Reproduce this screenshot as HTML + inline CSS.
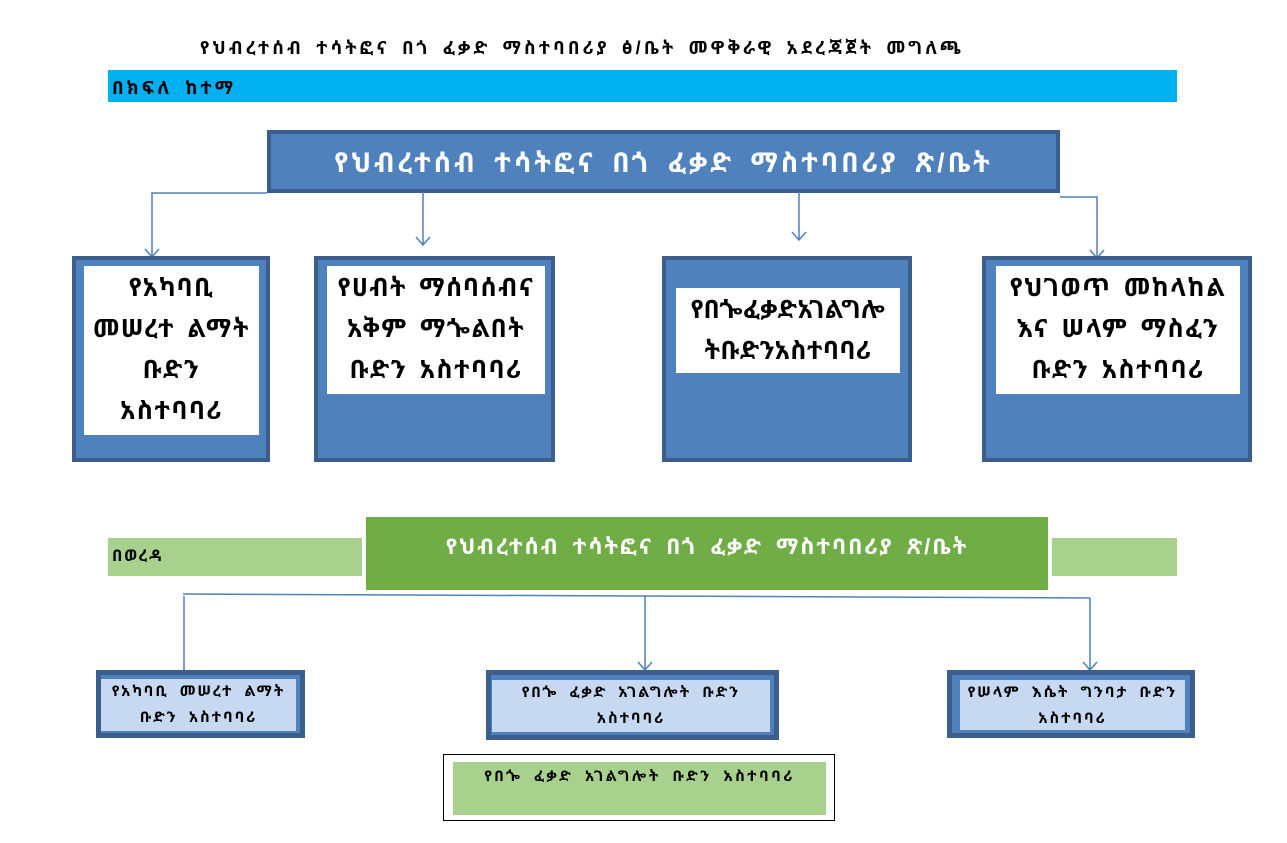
<!DOCTYPE html>
<html><head><meta charset="utf-8"><style>
body{margin:0;width:1287px;height:843px;background:#fff;position:relative;overflow:hidden;font-family:"Liberation Sans","Noto Sans Ethiopic","Abyssinica SIL",sans-serif;font-weight:bold}
div{position:absolute;box-sizing:border-box}
.c{display:flex;align-items:center;justify-content:center;text-align:center}
.ob{background:#4f81bd;border:4px solid #3b5e8c}
.wi{background:#fff;color:#000;font-size:25px;line-height:41px;text-align:center;letter-spacing:1.5px;word-spacing:4px}
.bb{background:#4f81bd;border:5px solid #3b5e8c}
.li{background:#c6d9f0;color:#000;font-size:15px;line-height:26px;text-align:center;letter-spacing:2px;word-spacing:5px}
</style></head><body>
<div style="left:200px;top:36px;font-size:18px;white-space:nowrap;letter-spacing:3.2px;word-spacing:4px">የህብረተሰብ ተሳትፎና በጎ ፈቃድ ማስተባበሪያ ፅ/ቤት መዋቅራዊ አደረጃጀት መግለጫ</div>
<div style="left:108px;top:70px;width:1069px;height:32px;background:#00b0f0;font-size:18px;padding:6px 4px;letter-spacing:3px;word-spacing:5px">በክፍለ ከተማ</div>
<div class="ob c" style="left:267px;top:130px;width:793px;height:63px;color:#fff;font-size:27px;letter-spacing:3px;word-spacing:6px">የህብረተሰብ ተሳትፎና በጎ ፈቃድ ማስተባበሪያ ጽ/ቤት</div>
<svg style="position:absolute;left:0;top:0" width="1287" height="843">
<g stroke="#4f81bd" stroke-width="1.5" fill="none">
<path d="M267 193H152V257M145 249l7 8 7-8"/>
<path d="M423 192V245M416 237l7 8 7-8"/>
<path d="M799 192V240M792 232l7 8 7-8"/>
<path d="M1060 197H1097V258M1090 250l7 8 7-8"/>
<path d="M183 594L1090 598"/>
<path d="M184 596V670"/>
<path d="M645 596V670M638 662l7 8 7-8"/>
<path d="M1090 598V670M1083 662l7 8 7-8"/>
</g></svg>
<div class="ob" style="left:72px;top:256px;width:198px;height:206px"></div>
<div class="wi" style="left:84px;top:266px;width:175px;height:169px;padding-top:2px">የአካባቢ<br>መሠረተ ልማት<br>ቡድን<br>አስተባባሪ</div>
<div class="ob" style="left:314px;top:256px;width:241px;height:206px"></div>
<div class="wi" style="left:327px;top:266px;width:218px;height:128px;padding-top:2px">የሀብት ማሰባሰብና<br>አቅም ማጐልበት<br>ቡድን አስተባባሪ</div>
<div class="ob" style="left:662px;top:256px;width:250px;height:206px"></div>
<div class="wi" style="left:676px;top:288px;width:224px;height:85px;padding-top:2px;letter-spacing:0.5px">የበጐፈቃድአገልግሎ<br>ትቡድንአስተባባሪ</div>
<div class="ob" style="left:982px;top:256px;width:270px;height:206px"></div>
<div class="wi" style="left:996px;top:266px;width:244px;height:128px;padding-top:2px">የህገወጥ መከላከል<br>እና ሠላም ማስፈን<br>ቡድን አስተባባሪ</div>
<div style="left:108px;top:538px;width:254px;height:38px;background:#a9d18e;font-size:16px;padding:6px 4px;letter-spacing:2px">በወረዳ</div>
<div style="left:1052px;top:538px;width:125px;height:38px;background:#a9d18e"></div>
<div style="left:366px;top:517px;width:682px;height:73px;background:#70ad47;color:#fff;font-size:22px;text-align:center;padding-top:14px;letter-spacing:2px;word-spacing:5px">የህብረተሰብ ተሳትፎና በጎ ፈቃድ ማስተባበሪያ ጽ/ቤት</div>
<div class="bb" style="left:96px;top:670px;width:209px;height:68px"></div>
<div class="li" style="left:101px;top:679px;width:195px;height:52px">የአካባቢ መሠረተ ልማት<br>ቡድን አስተባባሪ</div>
<div class="bb" style="left:486px;top:670px;width:293px;height:70px"></div>
<div class="li" style="left:492px;top:680px;width:278px;height:52px">የበጐ ፈቃድ አገልግሎት ቡድን<br>አስተባባሪ</div>
<div class="bb" style="left:947px;top:670px;width:248px;height:68px"></div>
<div class="li" style="left:960px;top:680px;width:225px;height:50px">የሠላም እሴት ግንባታ ቡድን<br>አስተባባሪ</div>
<div style="left:443px;top:754px;width:392px;height:67px;border:1px solid #000"></div>
<div style="left:453px;top:762px;width:373px;height:53px;background:#a9d18e;font-size:15px;text-align:center;padding-top:4px;letter-spacing:2.5px;word-spacing:5px">የበጐ ፈቃድ አገልግሎት ቡድን አስተባባሪ</div>
</body></html>
